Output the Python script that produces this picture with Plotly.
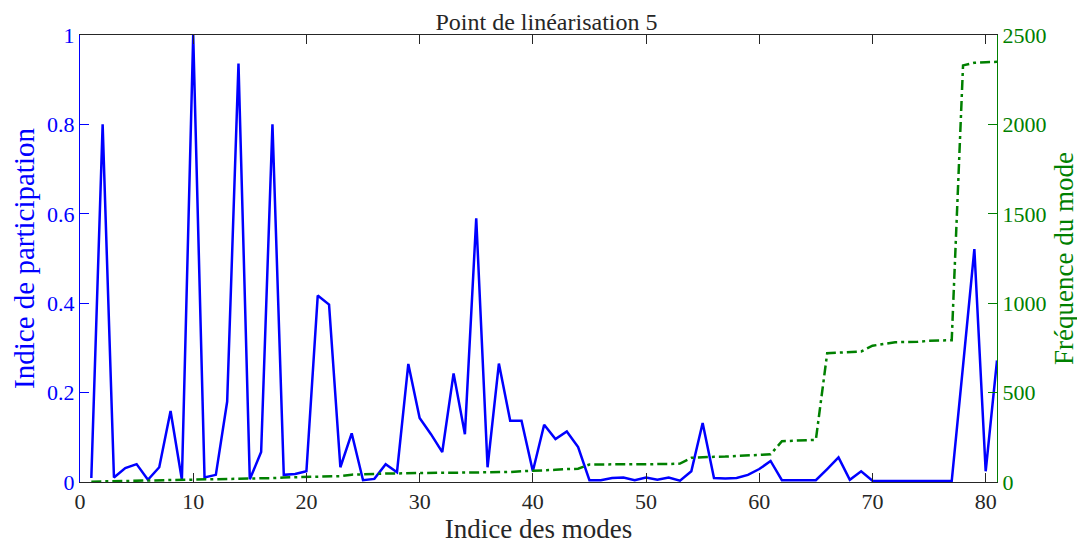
import plotly.graph_objects as go

modes = list(range(1, 82))

participation = [
    0.009, 0.80, 0.010, 0.031, 0.040, 0.005, 0.033, 0.159, 0.005, 1.000,
    0.010, 0.016, 0.180, 0.936, 0.006, 0.067, 0.800, 0.016, 0.018, 0.024,
    0.417, 0.397, 0.033, 0.109, 0.004, 0.007, 0.040, 0.022, 0.264, 0.143,
    0.107, 0.067, 0.243, 0.107, 0.590, 0.033, 0.265, 0.137, 0.137, 0.024,
    0.128, 0.096, 0.113, 0.078, 0.004, 0.004, 0.009, 0.010, 0.004, 0.010,
    0.005, 0.010, 0.003, 0.024, 0.132, 0.009, 0.008, 0.009, 0.016, 0.029,
    0.047, 0.004, 0.004, 0.004, 0.004, 0.029, 0.055, 0.005, 0.024, 0.003,
    0.002, 0.002, 0.002, 0.002, 0.002, 0.002, 0.002, 0.26, 0.521, 0.024,
    0.272,
]

frequency = [
    2, 3, 4, 5, 6, 8, 9, 12, 13, 14,
    15, 16, 17, 18, 19, 20, 22, 25, 26, 28,
    30, 31, 33, 41, 44, 46, 47, 48, 50, 51,
    51, 52, 52, 52, 53, 53, 54, 56, 60, 62,
    63, 68, 72, 74, 98, 99, 99, 99, 99, 99,
    100, 100, 103, 135, 140, 141, 142, 145, 148, 152,
    155, 228, 230, 232, 236, 720, 722, 724, 730, 762,
    770, 782, 783, 784, 790, 791, 793, 2330, 2345, 2348,
    2350,
]

x_ticks = [0, 10, 20, 30, 40, 50, 60, 70, 80]
y_ticks = [0, 0.2, 0.4, 0.6, 0.8, 1]
y_tick_labels = ["0", "0.2", "0.4", "0.6", "0.8", "1"]
y2_ticks = [0, 500, 1000, 1500, 2000, 2500]

BLUE = "#0000FF"
GREEN = "#008000"
DARK = "#262626"
FONT = "Liberation Serif"

fig = go.Figure()
fig.add_trace(go.Scatter(x=modes, y=participation, mode="lines",
                         line=dict(color=BLUE, width=2.5), yaxis="y",
                         name="Indice de participation"))
fig.add_trace(go.Scatter(x=modes, y=frequency, mode="lines",
                         line=dict(color=GREEN, width=2.5, dash="10px,4px,3px,4px"),
                         yaxis="y2", name="Fréquence du mode"))

fig.update_layout(
    width=1077, height=541,
    margin=dict(l=72, r=85, t=27, b=65),
    paper_bgcolor="white", plot_bgcolor="white",
    showlegend=False,
    font=dict(family=FONT, size=22, color=DARK),
    title=dict(text="Point de linéarisation 5", x=0.5, xanchor="center",
               y=0.975, yanchor="middle", font=dict(family=FONT, size=24, color=DARK)),
    xaxis=dict(range=[0, 81], tickvals=x_ticks, ticks="inside", ticklen=9,
               tickcolor=DARK, showline=True, linecolor=DARK, linewidth=1,
               mirror="ticks", showgrid=False, zeroline=False,
               title=dict(text="Indice des modes", font=dict(size=27, color=DARK), standoff=4),
               tickfont=dict(size=22, color=DARK)),
    yaxis=dict(range=[0, 1], tickvals=y_ticks, ticktext=y_tick_labels, ticks="inside",
               ticklen=9, tickcolor=BLUE, showline=True, linecolor=BLUE, linewidth=1,
               showgrid=False, zeroline=False,
               title=dict(text="Indice de participation", font=dict(size=29, color=BLUE), standoff=5),
               tickfont=dict(size=22, color=BLUE)),
    yaxis2=dict(range=[0, 2500], tickvals=y2_ticks, ticks="inside", ticklen=9,
                tickcolor=GREEN, showline=True, linecolor=GREEN, linewidth=1,
                overlaying="y", side="right", showgrid=False, zeroline=False,
                title=dict(text="Fréquence du mode", font=dict(size=27, color=GREEN), standoff=8),
                tickfont=dict(size=22, color=GREEN)),
)

fig.write_html("out.html")
